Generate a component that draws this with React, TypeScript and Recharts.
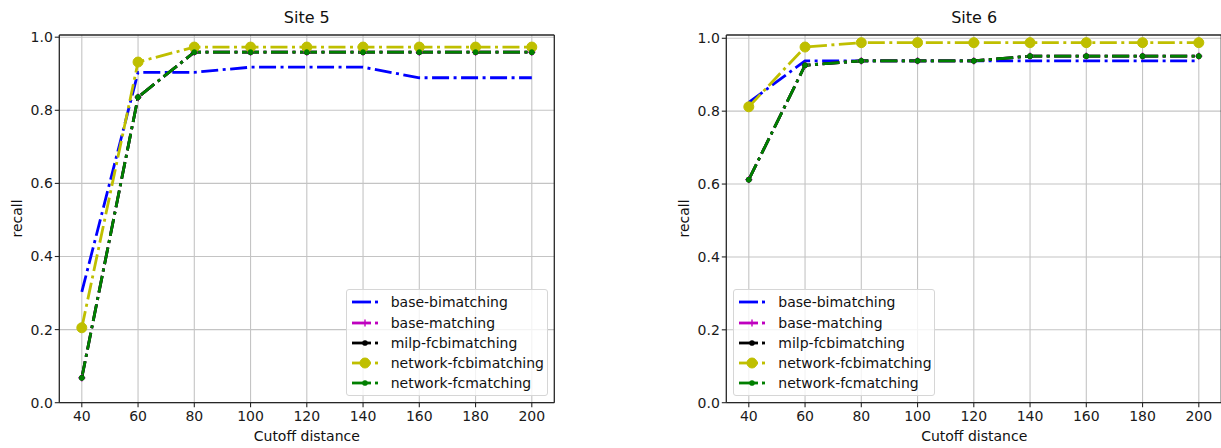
import React from 'react';
import { LineChart, Line, XAxis, YAxis, CartesianGrid, ReferenceLine } from 'recharts';

// ---- data -------------------------------------------------------------
const cutoffs = [40, 60, 80, 100, 120, 140, 160, 180, 200];
const xTicks = [40, 60, 80, 100, 120, 140, 160, 180, 200];
const yTicks = [0, 0.2, 0.4, 0.6, 0.8, 1.0];

const seriesNames = [
  'base-bimatching',
  'base-matching',
  'milp-fcbimatching',
  'network-fcbimatching',
  'network-fcmatching',
];
const seriesColors = ['#0000ff', '#bf00bf', '#000000', '#bfbf00', '#008000'];
const seriesMarkers = ['none', 'plus', 'dot', 'circle', 'dot'];

// Site 5
const site5BaseBimatching = [0.303, 0.904, 0.904, 0.918, 0.918, 0.918, 0.889, 0.889, 0.889];
const site5BaseMatching = [0.068, 0.836, 0.959, 0.959, 0.959, 0.959, 0.959, 0.959, 0.959];
const site5MilpFcbimatching = [0.068, 0.836, 0.959, 0.959, 0.959, 0.959, 0.959, 0.959, 0.959];
const site5NetworkFcbimatching = [0.205, 0.932, 0.973, 0.973, 0.973, 0.973, 0.973, 0.973, 0.973];
const site5NetworkFcmatching = [0.068, 0.836, 0.959, 0.959, 0.959, 0.959, 0.959, 0.959, 0.959];

// Site 6
const site6BaseBimatching = [0.824, 0.938, 0.938, 0.938, 0.938, 0.938, 0.938, 0.938, 0.938];
const site6BaseMatching = [0.612, 0.926, 0.938, 0.938, 0.938, 0.951, 0.951, 0.951, 0.951];
const site6MilpFcbimatching = [0.612, 0.926, 0.938, 0.938, 0.938, 0.951, 0.951, 0.951, 0.951];
const site6NetworkFcbimatching = [0.812, 0.976, 0.988, 0.988, 0.988, 0.988, 0.988, 0.988, 0.988];
const site6NetworkFcmatching = [0.612, 0.926, 0.938, 0.938, 0.938, 0.951, 0.951, 0.951, 0.951];

// ---- styling ----------------------------------------------------------
const FONT = '"DejaVu Sans", Verdana, sans-serif';
const DASH = '17 4.5 3 4.5';
const LINE_W = 2.8;
const SPINE = '#262626';
const GRID = '#c4c4c4';
const TICK_FS = 14;

const X_MIN = 32;
const X_MAX = 208;

const CHART_W = 600;
const CHART_H = 448;

function buildRows(series: number[][]) {
  return cutoffs.map((c, i) => {
    const row: Record<string, number> = { x: c };
    series.forEach((s, k) => {
      row['s' + k] = s[i];
    });
    return row;
  });
}

function Marker({ kind, color, cx, cy }: { kind: string; color: string; cx: number; cy: number }) {
  if (kind === 'circle') return <circle cx={cx} cy={cy} r={5} fill={color} stroke={color} strokeWidth={1} />;
  if (kind === 'dot') return <circle cx={cx} cy={cy} r={2.6} fill={color} stroke={color} strokeWidth={0.5} />;
  if (kind === 'plus')
    return (
      <g stroke={color} strokeWidth={1.4}>
        <line x1={cx - 3.6} y1={cy} x2={cx + 3.6} y2={cy} />
        <line x1={cx} y1={cy - 3.6} x2={cx} y2={cy + 3.6} />
      </g>
    );
  return null;
}

function makeDot(kind: string, color: string) {
  if (kind === 'none') return false as const;
  return (props: any) => {
    const { cx, cy, index } = props;
    if (cx == null || cy == null) return <g key={'m' + index} />;
    return (
      <g key={'m' + index}>
        <Marker kind={kind} color={color} cx={cx} cy={cy} />
      </g>
    );
  };
}

function LegendBox({ left, top }: { left: number; top: number }) {
  return (
    <div
      style={{
        position: 'absolute',
        left,
        top,
        width: 202,
        height: 107,
        boxSizing: 'border-box',
        background: 'rgba(255,255,255,0.8)',
        border: '1px solid #d6d6d6',
        borderRadius: 3,
        fontFamily: FONT,
        fontSize: 14,
        color: '#111',
        paddingTop: 2,
      }}
    >
      {seriesNames.map((name, k) => (
        <div key={name} style={{ position: 'relative', height: 20.3, lineHeight: '20.3px' }}>
          <svg width={30} height={20} style={{ position: 'absolute', left: 4, top: 0 }}>
            <line x1={1} y1={10} x2={20} y2={10} stroke={seriesColors[k]} strokeWidth={LINE_W} />
            <line x1={24} y1={10} x2={27} y2={10} stroke={seriesColors[k]} strokeWidth={LINE_W} />
            <Marker kind={seriesMarkers[k]} color={seriesColors[k]} cx={14} cy={10} />
          </svg>
          <span style={{ position: 'absolute', left: 44, top: 0, whiteSpace: 'nowrap' }}>{name}</span>
        </div>
      ))}
    </div>
  );
}

function SitePanel({
  title,
  series,
  yMax,
  left,
  legendLeft,
}: {
  title: string;
  series: number[][];
  yMax: number;
  left: number;
  legendLeft: number;
}) {
  const rows = buildRows(series);
  const plotLeft = 59.3;
  const plotRight = 554.3;
  const plotTop = 35;
  const plotBottom = 402.7;
  return (
    <div style={{ position: 'absolute', left, top: 0, width: CHART_W, height: CHART_H }}>
      <LineChart
        width={CHART_W}
        height={CHART_H}
        data={rows}
        margin={{ top: plotTop, right: CHART_W - plotRight, bottom: CHART_H - plotBottom - 30, left: plotLeft - 50 }}
      >
        <CartesianGrid stroke={GRID} strokeWidth={1.1} horizontalValues={yTicks} verticalValues={xTicks} />
        <XAxis
          dataKey="x"
          type="number"
          domain={[X_MIN, X_MAX]}
          ticks={xTicks}
          allowDataOverflow
          height={30}
          tickSize={4.5}
          tickMargin={3.5}
          stroke={SPINE}
          tickLine={{ stroke: SPINE, strokeWidth: 1.1 }}
          axisLine={{ stroke: SPINE, strokeWidth: 1.3 }}
          tick={{ fontFamily: FONT, fontSize: TICK_FS, fill: '#1a1a1a' }}
        />
        <YAxis
          type="number"
          domain={[0, yMax]}
          ticks={yTicks}
          allowDataOverflow
          width={50}
          tickSize={4.5}
          tickMargin={2}
          stroke={SPINE}
          tickFormatter={(v: number) => v.toFixed(1)}
          tickLine={{ stroke: SPINE, strokeWidth: 1.1 }}
          axisLine={{ stroke: SPINE, strokeWidth: 1.3 }}
          tick={{ fontFamily: FONT, fontSize: TICK_FS, fill: '#1a1a1a' }}
        />
        <ReferenceLine y={yMax} stroke={SPINE} strokeWidth={1.3} ifOverflow="extendDomain" />
        <ReferenceLine x={X_MAX} stroke={SPINE} strokeWidth={1.3} ifOverflow="extendDomain" />
        {seriesNames.map((name, k) => (
          <Line
            key={name}
            name={name}
            dataKey={'s' + k}
            type="linear"
            stroke={seriesColors[k]}
            strokeWidth={LINE_W}
            strokeDasharray={DASH}
            dot={makeDot(seriesMarkers[k], seriesColors[k])}
            activeDot={false}
            isAnimationActive={false}
          />
        ))}
      </LineChart>
      <div
        style={{
          position: 'absolute',
          left: (plotLeft + plotRight) / 2 - 100,
          width: 200,
          top: 8,
          textAlign: 'center',
          fontFamily: FONT,
          fontSize: 16,
          color: '#111',
          lineHeight: '20px',
        }}
      >
        {title}
      </div>
      <div
        style={{
          position: 'absolute',
          left: (plotLeft + plotRight) / 2 - 100,
          width: 200,
          top: 428,
          textAlign: 'center',
          fontFamily: FONT,
          fontSize: 14,
          color: '#111',
          lineHeight: '17px',
        }}
      >
        Cutoff distance
      </div>
      <div
        style={{
          position: 'absolute',
          left: 16.7 - 50,
          width: 100,
          top: (plotTop + plotBottom) / 2 - 8.5,
          textAlign: 'center',
          fontFamily: FONT,
          fontSize: 14,
          color: '#111',
          lineHeight: '17px',
          transform: 'rotate(-90deg)',
        }}
      >
        recall
      </div>
      <LegendBox left={legendLeft} top={289.3} />
    </div>
  );
}

export default function App() {
  const site5 = [
    site5BaseBimatching,
    site5BaseMatching,
    site5MilpFcbimatching,
    site5NetworkFcbimatching,
    site5NetworkFcmatching,
  ];
  const site6 = [
    site6BaseBimatching,
    site6BaseMatching,
    site6MilpFcbimatching,
    site6NetworkFcbimatching,
    site6NetworkFcmatching,
  ];
  return (
    <div
      style={{
        position: 'absolute',
        left: 0,
        top: 0,
        width: 1221,
        height: 448,
        overflow: 'hidden',
        background: '#ffffff',
      }}
    >
      <SitePanel title="Site 5" series={site5} yMax={1.006} left={0} legendLeft={345.7} />
      <SitePanel title="Site 6" series={site6} yMax={1.009} left={667.4} legendLeft={65.9} />
    </div>
  );
}
